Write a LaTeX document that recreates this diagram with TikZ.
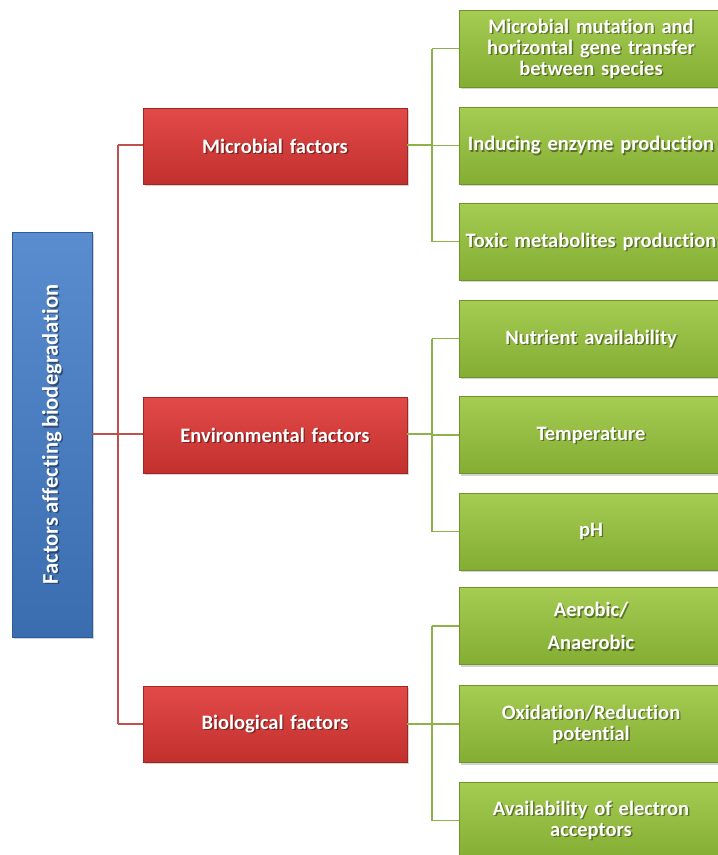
\documentclass[tikz,border=0pt]{standalone}
\usepackage{fontspec}
\setmainfont{Carlito}[Ligatures=NoCommon, WordSpace=0.8]
\usetikzlibrary{shadows}
\definecolor{bluetop}{HTML}{5A8DD0}
\definecolor{bluebot}{HTML}{3A6DB0}
\definecolor{blueline}{HTML}{2E5C96}
\definecolor{redtop}{HTML}{E24A48}
\definecolor{redbot}{HTML}{C2302E}
\definecolor{redline}{HTML}{A02624}
\definecolor{greentop}{HTML}{A6CC52}
\definecolor{greenbot}{HTML}{83AD33}
\definecolor{greenline}{HTML}{6E9428}
\definecolor{redconn}{HTML}{C0504D}
\definecolor{greenconn}{HTML}{8DB24A}
\tikzset{
  box/.style={rectangle, inner sep=2pt,
    drop shadow={shadow xshift=2pt, shadow yshift=-2pt, opacity=0.35}},
  txt/.style={align=center, text=white, inner sep=0pt,
    font=\bfseries\fontsize{20.5}{21}\selectfont},
  txtshadow/.style={txt, text=black, text opacity=0.4},
  rootbox/.style={box, draw=blueline, top color=bluetop, bottom color=bluebot,
    minimum width=80pt, minimum height=405pt},
  catbox/.style={box, draw=redline, top color=redtop, bottom color=redbot,
    minimum width=264pt, minimum height=76pt},
  leafbox/.style={box, draw=greenline, top color=greentop, bottom color=greenbot,
    minimum width=264pt, minimum height=77pt},
  redlink/.style={draw=redconn, line width=1.7pt},
  greenlink/.style={draw=greenconn, line width=1.7pt},
}
% a box with its label, the label carrying a soft dark shadow
\newcommand\labelledbox[4]{%
  \node[#3] (#1) at (#2) {};
  \node[txtshadow, text width=262pt] (#1-sh) at ([shift={(1.4,1.4)}]#1.center) {#4};
  \node[txt, text width=262pt] (#1-t) at (#1.center) {#4};
}
\begin{document}
\begin{tikzpicture}[x=1pt,y=-1pt]
\useasboundingbox (0,0) rectangle (718,855);
\begin{scope}
\clip (0,0) rectangle (718,855);
% junction points of the tree
\coordinate (rj) at (118,434);
\coordinate (rt) at (118,145);
\coordinate (rb) at (118,724);
\coordinate (gj1) at (432,145);
\coordinate (gj2) at (432,434);
\coordinate (gj3) at (432,724);

\node[rootbox] (root) at (52,434.5) {};
\node[txtshadow, rotate=90, font=\bfseries\fontsize{22.5}{22.5}\selectfont] (root-sh) at ([shift={(1.4,1.4)}]root.center) {Factors affecting biodegradation};
\node[txt, rotate=90, font=\bfseries\fontsize{22.5}{22.5}\selectfont] (root-t) at (root.center) {Factors affecting biodegradation};

\labelledbox{mic}{275,146}{catbox}{Microbial factors}
\labelledbox{env}{275,435}{catbox}{Environmental factors}
\labelledbox{bio}{275,724}{catbox}{Biological factors}

\labelledbox{l1}{591,48.5}{leafbox}{Microbial mutation and\\horizontal gene transfer\\between species}
\labelledbox{l2}{591,145.5}{leafbox}{Inducing enzyme production}
\labelledbox{l3}{591,241.5}{leafbox}{Toxic metabolites production}
\labelledbox{l4}{591,338.5}{leafbox}{Nutrient availability}
\labelledbox{l5}{591,435}{leafbox}{Temperature}
\labelledbox{l6}{591,531.5}{leafbox}{pH}
\labelledbox{l7}{591,626}{leafbox}{Aerobic/\\[12pt]Anaerobic}
\labelledbox{l8}{591,724}{leafbox}{Oxidation/Reduction\\potential}
\labelledbox{l9}{591,820.5}{leafbox}{Availability of electron\\acceptors}

% red connectors
\draw[redlink] (root.east |- rj) -- (rj);
\draw[redlink] (rt) -- (rb);
\draw[redlink] (rt) -- (rt -| mic.west);
\draw[redlink] (rj) -- (rj -| env.west);
\draw[redlink] (rb) -- (rb -| bio.west);

% green connectors
\draw[greenlink] (mic.east |- gj1) -- (gj1);
\draw[greenlink] (gj1 |- l1.west) -- (gj1 |- l3.west);
\draw[greenlink] (gj1 |- l1.west) -- (l1.west);
\draw[greenlink] (gj1 |- l2.west) -- (l2.west);
\draw[greenlink] (gj1 |- l3.west) -- (l3.west);

\draw[greenlink] (env.east |- gj2) -- (gj2);
\draw[greenlink] (gj2 |- l4.west) -- (gj2 |- l6.west);
\draw[greenlink] (gj2 |- l4.west) -- (l4.west);
\draw[greenlink] (gj2 |- l5.west) -- (l5.west);
\draw[greenlink] (gj2 |- l6.west) -- (l6.west);

\draw[greenlink] (bio.east |- gj3) -- (gj3);
\draw[greenlink] (gj3 |- l7.west) -- (gj3 |- l9.west);
\draw[greenlink] (gj3 |- l7.west) -- (l7.west);
\draw[greenlink] (gj3 |- l8.west) -- (l8.west);
\draw[greenlink] (gj3 |- l9.west) -- (l9.west);
\end{scope}
\end{tikzpicture}
\end{document}
